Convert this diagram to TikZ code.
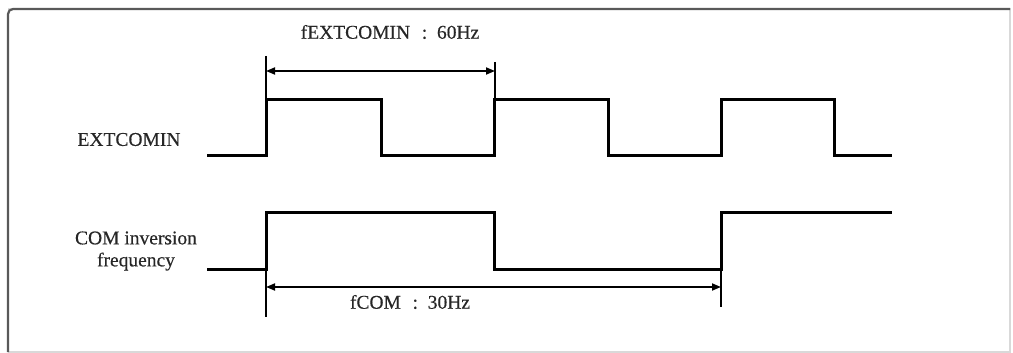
\documentclass[tikz,border=0pt]{standalone}
\usepackage{fontspec}
\setmainfont{Liberation Serif}[FakeBold=0.4]
\usetikzlibrary{arrows.meta}
\definecolor{framedark}{gray}{0.35}
\definecolor{framelight}{gray}{0.85}
\tikzset{
  sig/.style={line width=3pt, line join=miter},
  dim/.style={line width=1.8pt, {Triangle[length=9pt,width=7pt]}-{Triangle[length=9pt,width=7pt]}},
  tick/.style={line width=1.5pt},
  lbl/.style={font=\fontsize{19.5}{22}\selectfont, text=black!85, inner sep=0pt, align=center},
}
\begin{document}
\begin{tikzpicture}[x=1pt,y=-1pt]
\useasboundingbox (0,0) rectangle (1013,353);
% frame
\draw[framelight, line width=1.5pt] (8,9) -- (1010,9) -- (1010,352) -- (8,352);
\draw[framedark, line width=2.2pt, rounded corners=5pt] (8,352) -- (8,9) -- (1010,9);
% labels
\node[lbl] (lext) at (129,139.5) {EXTCOMIN};
\node[lbl] (lcom) at (136,251) {COM inversion\\frequency};
\node[lbl] (ftop) at (390,32) {fEXTCOMIN\hspace{0.6em}:\hspace{0.5em}60Hz};
\node[lbl] (fbot) at (410,302) {fCOM\hspace{0.6em}:\hspace{0.5em}30Hz};
% EXTCOMIN signal
\draw[sig] (207,155) -- (266,155) -- (266,100) -- (381,100) -- (381,155) -- (494,155) -- (494,100) -- (608,100) -- (608,155) -- (721,155) -- (721,100) -- (834,100) -- (834,155) -- (892,155);
% COM signal
\draw[sig] (207,269) -- (266,269) -- (266,212) -- (494,212) -- (494,269) -- (721,269) -- (721,212) -- (892,212);
% ticks
\coordinate (t1a) at (266,56);
\coordinate (t1b) at (266,100);
\coordinate (t2a) at (495,62);
\coordinate (t2b) at (495,100);
\coordinate (b1a) at (266,269);
\coordinate (b1b) at (266,317);
\coordinate (b2a) at (721,269);
\coordinate (b2b) at (721,307);
\draw[tick] (t1a) -- (t1b);
\draw[tick] (t2a) -- (t2b);
\draw[tick] (b1a) -- (b1b);
\draw[tick] (b2a) -- (b2b);
% dimension arrows
\coordinate (d1l) at (266,71);
\coordinate (d1r) at (495,71);
\coordinate (d2l) at (266,287);
\coordinate (d2r) at (721,287);
\draw[dim] (d1l) -- (d1r);
\draw[dim] (d2l) -- (d2r);
\end{tikzpicture}
\end{document}
